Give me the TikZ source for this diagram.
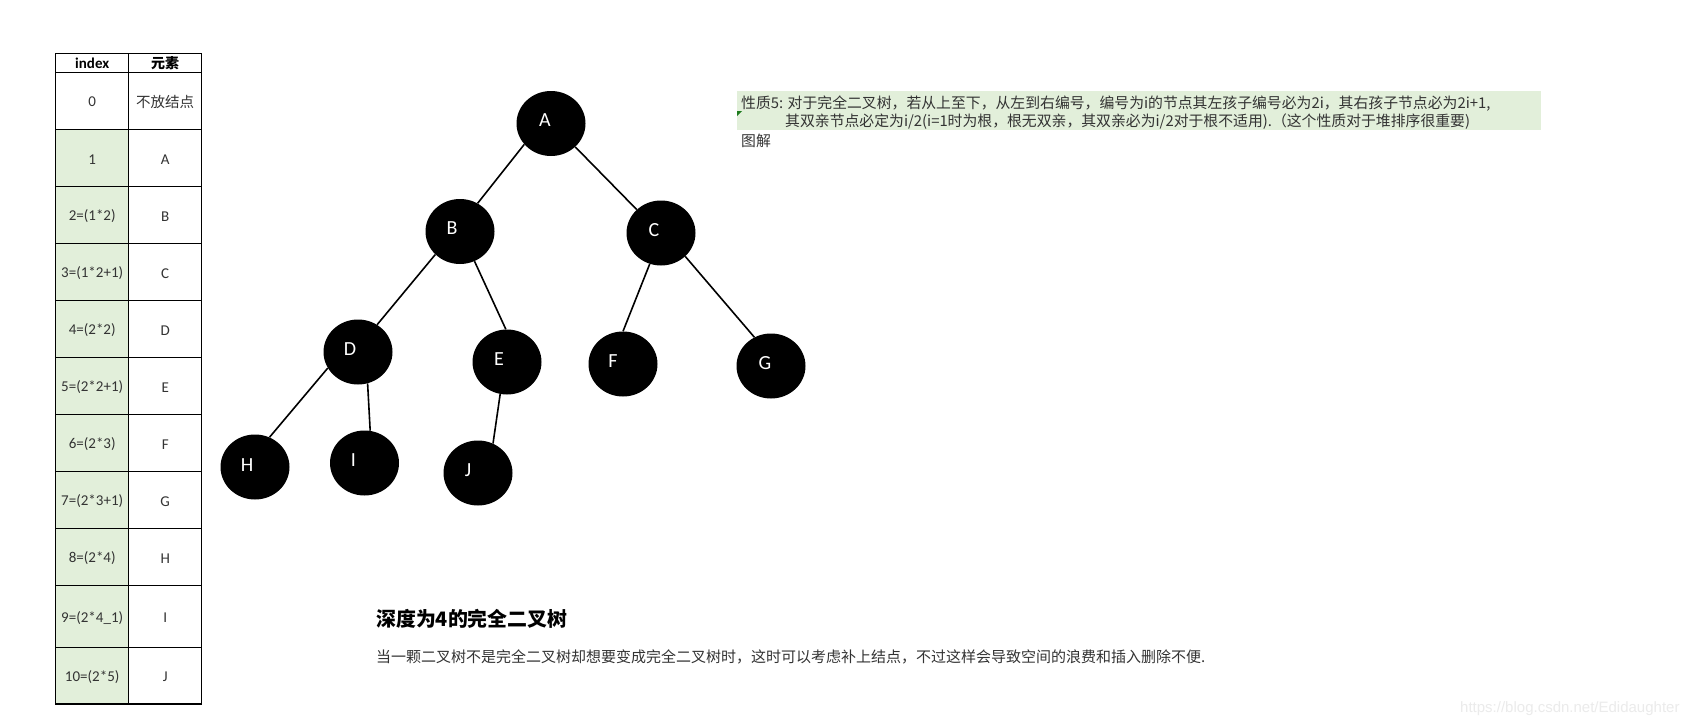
\documentclass[tikz,border=0pt]{standalone}
\usepackage{fontspec}
\setmainfont{Carlito}
\newfontfamily\cjk{Noto Sans CJK SC}
\newfontfamily\wmfont{Liberation Sans}
\usetikzlibrary{shapes.geometric}
\definecolor{cellgreen}{HTML}{E2EFDA}
\definecolor{txtgray}{HTML}{333333}
\definecolor{markgreen}{HTML}{1E7B1E}
\definecolor{wmgray}{HTML}{EBEBEB}
\begin{document}
\begin{tikzpicture}[x=1pt,y=-1pt,
  vert/.style={ellipse,fill=black,minimum width=69pt,minimum height=65pt,inner sep=0pt},
  vlabel/.style={text=white,font=\fontsize{20}{24}\selectfont,inner sep=0pt},
  edge/.style={line width=1.6pt,black},
  gridline/.style={line width=1.2pt,black},
  idxtext/.style={font=\fontsize{15}{18}\selectfont,text=txtgray,inner sep=0pt},
  headtext/.style={font=\fontsize{15}{18}\selectfont\bfseries,text=black,inner sep=0pt},
  cjktext/.style={font=\cjk\fontsize{14.85}{17}\selectfont,text=txtgray,inner sep=0pt,anchor=west},
]
% canvas
\fill[white] (0,0) rectangle (1700,725);
\useasboundingbox (0,0) rectangle (1700,725);

% ---------------- table ----------------
\fill[cellgreen] (55.7,129.3) rectangle (128.7,704);
\draw[gridline] (55.7,53.3) rectangle (201.7,704);
\draw[gridline] (128.7,53.3) -- (128.7,704);
\foreach \yy in {72.3,129.3,186.3,243.3,300.3,357.3,414.3,471.3,528.3,585.3,647.3}
  \draw[gridline] (55.7,\yy) -- (201.7,\yy);

\node[headtext] (hidx) at (92.2,63) {index};
\node[headtext,font=\cjk\bfseries\fontsize{14}{17}\selectfont] (hel) at (165.2,63) {元素};
\node[idxtext] (i0) at (92.2,102) {0};
\node[idxtext,font=\cjk\fontsize{14.5}{17}\selectfont] (e0) at (165.2,102) {不放结点};
\foreach \yc/\ia/\el [count=\k] in {
  159.3/1/A, 216.3/{2=(1*2)}/B, 273.3/{3=(1*2+1)}/C, 330.3/{4=(2*2)}/D,
  387.3/{5=(2*2+1)}/E, 444.3/{6=(2*3)}/F, 501.3/{7=(2*3+1)}/G,
  558.3/{8=(2*4)}/H, 617.8/{9=(2*4\_1)}/I, 677.2/{10=(2*5)}/J}{
  \node[idxtext] (ri\k) at (92.2,\yc) {\ia};
  \node[idxtext] (re\k) at (165.2,\yc) {\el};
}

% ---------------- tree ----------------
\node[vert] (A) at (551,123.5) {};
\node[vert] (B) at (460,231.5) {};
\node[vert] (C) at (661,233) {};
\node[vert] (D) at (358,352) {};
\node[vert] (E) at (507,362) {};
\node[vert] (F) at (623,364) {};
\node[vert] (G) at (771,366) {};
\node[vert] (H) at (255,467) {};
\node[vert] (I) at (364.5,463) {};
\node[vert] (J) at (478,473) {};

\node[vlabel] (lA) at ([shift={(-6,-3)}]A.center) {A};
\node[vlabel] (lB) at ([shift={(-8,-3.5)}]B.center) {B};
\node[vlabel] (lC) at ([shift={(-7,-2.5)}]C.center) {C};
\node[vlabel] (lD) at ([shift={(-8,-3)}]D.center) {D};
\node[vlabel] (lE) at ([shift={(-8,-3)}]E.center) {E};
\node[vlabel] (lF) at ([shift={(-10,-3)}]F.center) {F};
\node[vlabel] (lG) at ([shift={(-6,-3)}]G.center) {G};
\node[vlabel] (lH) at ([shift={(-8,-2)}]H.center) {H};
\node[vlabel] (lI) at ([shift={(-11,-3)}]I.center) {I};
\node[vlabel] (lJ) at ([shift={(-10,-3)}]J.center) {J};

\draw[edge] (A.218) -- (B.58);
\draw[edge] (A.316) -- (C.136);
\draw[edge] (B.223) -- (D.55);
\draw[edge] (B.296) -- (E.92);
\draw[edge] (C.250) -- (F.90);
\draw[edge] (C.316) -- (G.120);
\draw[edge] (D.208) -- (H.64);
\draw[edge] (D.287) -- (I.80);
\draw[edge] (E.258) -- (J.63);

% ---------------- property box ----------------
\fill[cellgreen] (737,91) rectangle (1541,130);
\fill[markgreen] (737,111) -- (742,111) -- (737,116) -- cycle;
\node[cjktext] (p1) at (741,104) {性质5: 对于完全二叉树，若从上至下，从左到右编号，编号为i的节点其左孩子编号必为2i，其右孩子节点必为2i+1,};
\node[cjktext] (p2) at (785,122) {其双亲节点必定为i/2(i=1时为根，根无双亲，其双亲必为i/2对于根不适用).（这个性质对于堆排序很重要)};
\node[cjktext] (tj) at (741,141) {图解};

% ---------------- bottom text ----------------
\node[anchor=west,inner sep=0pt,font=\cjk\bfseries\fontsize{19.9}{23}\selectfont] (title) at (376,619) {深度为4的完全二叉树};
\node[anchor=west,inner sep=0pt,text=txtgray,font=\cjk\fontsize{15}{18}\selectfont] (body) at (376,657) {当一颗二叉树不是完全二叉树却想要变成完全二叉树时，这时可以考虑补上结点，不过这样会导致空间的浪费和插入删除不便.};

% watermark
\node[anchor=west,inner sep=0pt,text=wmgray,font=\wmfont\fontsize{15}{18}\selectfont] (wm) at (1460,709) {https://blog.csdn.net/Edidaughter};
\end{tikzpicture}
\end{document}
